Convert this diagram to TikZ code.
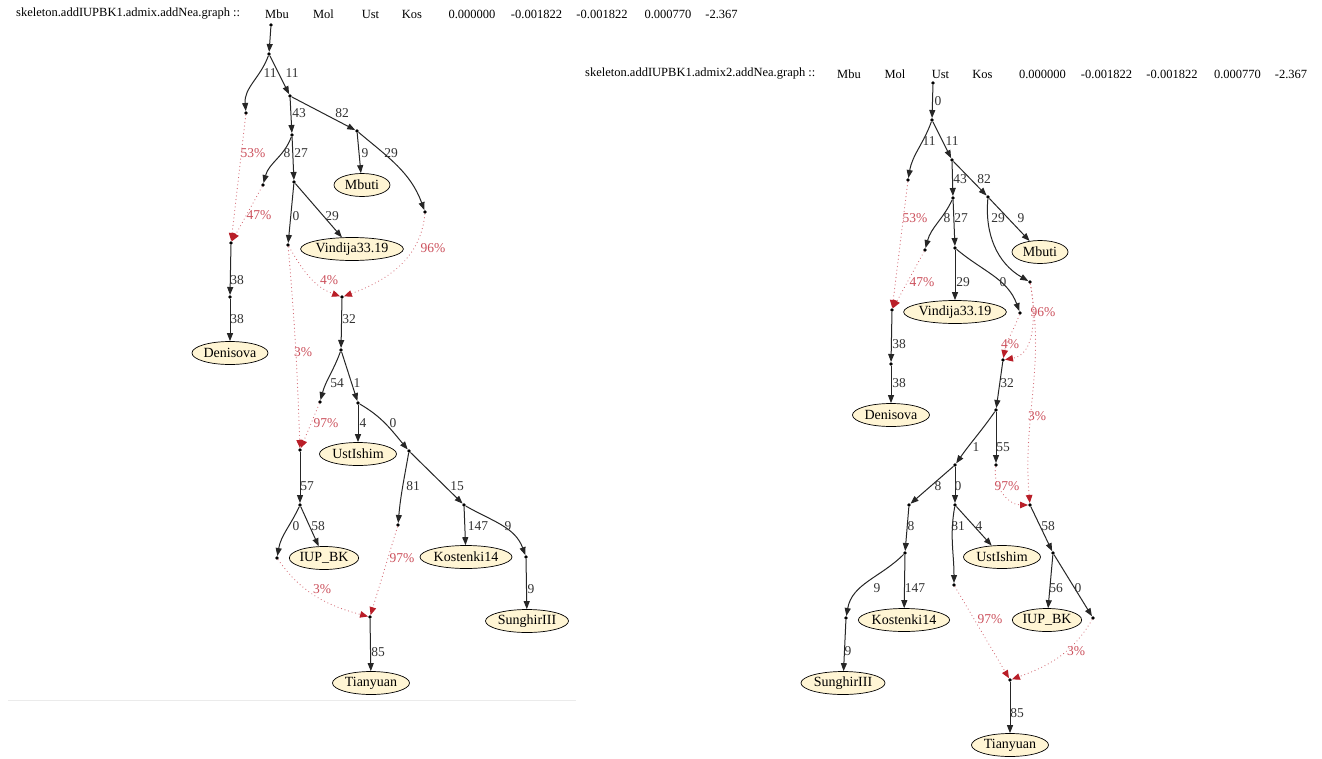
\documentclass[tikz,border=0pt]{standalone}
\usepackage{fontspec}
\setmainfont{Liberation Serif}
\usetikzlibrary{arrows.meta,shapes.geometric}

\definecolor{leaffill}{RGB}{255,245,212}
\definecolor{mixred}{RGB}{204,80,92}
\definecolor{tipred}{RGB}{185,30,40}

\begin{document}
\begin{tikzpicture}[x=1pt,y=1pt,
  vtx/.style={circle,fill=black,inner sep=0pt,minimum size=3.6pt},
  leaf/.style={ellipse,draw=black,fill=leaffill,line width=0.7pt,inner sep=0pt,minimum width=#1,minimum height=23pt,font=\fontsize{14}{15}\selectfont},
  tree/.style={draw=black!85,line width=1pt,-{Triangle[length=8pt,width=6pt]}},
  mix/.style={draw=mixred!85,line width=1.1pt,dash pattern=on 0.1pt off 3.6pt,line cap=round,-{Triangle[length=8pt,width=6.5pt,color=tipred]}},
  lbl/.style={inner sep=0pt,text=black!80,font=\fontsize{13.5}{15}\selectfont},
  pct/.style={lbl,text=mixred},
  head/.style={inner sep=0pt,font=\fontsize{12.5}{15}\selectfont}]

\path [use as bounding box] (0,0) rectangle (1322,-758);
\fill [white] (0,0) rectangle (1322,-758);
\draw [black!8, line width=1pt] (8,-700) -- (576,-700);

% HEADERS
\node[head, anchor=west] (hl0) at (16,-14) {skeleton.addIUPBK1.admix.addNea.graph ::};
\node[head] (hl1) at (277,-14) {Mbu};
\node[head] (hl2) at (323.5,-14) {Mol};
\node[head] (hl3) at (370.5,-14) {Ust};
\node[head] (hl4) at (412,-14) {Kos};
\node[head] (hl5) at (472,-14) {0.000000};
\node[head] (hl6) at (536.5,-14) {-0.001822};
\node[head] (hl7) at (602,-14) {-0.001822};
\node[head] (hl8) at (668,-14) {0.000770};
\node[head] (hl9) at (721.5,-14) {-2.367};

\node[head, anchor=west] (hr0) at (585,-74) {skeleton.addIUPBK1.admix2.addNea.graph ::};
\node[head] (hr1) at (849,-74) {Mbu};
\node[head] (hr2) at (895,-74) {Mol};
\node[head] (hr3) at (940.5,-74) {Ust};
\node[head] (hr4) at (982.5,-74) {Kos};
\node[head] (hr5) at (1042.5,-74) {0.000000};
\node[head] (hr6) at (1106.5,-74) {-0.001822};
\node[head] (hr7) at (1172,-74) {-0.001822};
\node[head] (hr8) at (1237.5,-74) {0.000770};
\node[head] (hr9) at (1291,-74) {-2.367};

% LEFT GRAPH -- VERTICES
\node[vtx] (a0) at (271,-25) {};
\node[vtx] (a1) at (269,-54) {};
\node[vtx] (a2) at (246,-113) {};
\node[vtx] (a3) at (290,-96) {};
\node[vtx] (a4) at (292,-135) {};
\node[vtx] (a5) at (357,-131) {};
\node[vtx] (a6) at (263,-185) {};
\node[vtx] (a7) at (294,-182) {};
\node[vtx] (a8) at (425,-212) {};
\node[vtx] (a9) at (288,-245) {};
\node[vtx] (aDx) at (231,-243) {};
\node[vtx] (a10) at (230,-297) {};
\node[vtx] (aMx1) at (342,-297) {};
\node[vtx] (a11) at (341,-350) {};
\node[vtx] (a12) at (320,-402) {};
\node[vtx] (a13) at (358,-403) {};
\node[vtx] (aMx2) at (300,-450) {};
\node[vtx] (a14) at (409,-451) {};
\node[vtx] (a15) at (300,-505) {};
\node[vtx] (a16) at (398,-525) {};
\node[vtx] (a17) at (464,-505) {};
\node[vtx] (a18) at (277,-558) {};
\node[vtx] (a19) at (526,-557) {};
\node[vtx] (aMx3) at (370,-617) {};

% LEFT GRAPH -- LEAVES
\node[leaf=56pt] (aMbu) at (362,-185) {Mbuti};
\node[leaf=101pt] (aVin) at (352,-249) {Vindija33.19};
\node[leaf=76pt] (aDen) at (230,-353) {Denisova};
\node[leaf=77pt] (aUst) at (358,-454) {UstIshim};
\node[leaf=67pt] (aIUP) at (324,-558) {IUP\_BK};
\node[leaf=92pt] (aKos) at (466,-557) {Kostenki14};
\node[leaf=83pt] (aSun) at (527,-621) {SunghirIII};
\node[leaf=77pt] (aTia) at (371,-683) {Tianyuan};

% LEFT GRAPH -- EDGES
\draw[tree] (a0) -- (a1);
\draw[tree] (a1) to[out=250,in=95] (a2);
\draw[tree] (a1) -- (a3);
\draw[tree] (a3) -- (a4);
\draw[tree] (a3) -- (a5);
\draw[tree] (a4) to[out=250,in=75] (a6);
\draw[tree] (a4) -- (a7);
\draw[tree] (a5) -- (aMbu);
\draw[tree] (a5) to[out=-40,in=110] (a8);
\draw[tree] (a7) -- (a9);
\draw[tree] (a7) -- (aVin);
\draw[tree] (aDx) -- (a10);
\draw[tree] (a10) -- (aDen);
\draw[tree] (aMx1) -- (a11);
\draw[tree] (a11) to[out=250,in=75] (a12);
\draw[tree] (a11) -- (a13);
\draw[tree] (a13) -- (aUst);
\draw[tree] (a13) to[out=-30,in=130] (a14);
\draw[tree] (aMx2) -- (a15);
\draw[tree] (a14) to[out=260,in=85] (a16);
\draw[tree] (a14) -- (a17);
\draw[tree] (a15) to[out=245,in=80] (a18);
\draw[tree] (a15) -- (aIUP);
\draw[tree] (a17) -- (aKos);
\draw[tree] (a17) to[out=-30,in=110] (a19);
\draw[tree] (a19) -- (aSun);
\draw[tree] (aMx3) -- (aTia);

% LEFT GRAPH -- ADMIXTURE
\draw[mix] (a2) -- (aDx);
\draw[mix] (a6) -- (aDx);
\draw[mix] (a8) to[out=265,in=20] (aMx1);
\draw[mix] (a9) to[out=-60,in=160] (aMx1);
\draw[mix] (a9) to[out=-85,in=92] (aMx2);
\draw[mix] (a12) -- (aMx2);
\draw[mix] (a18) to[out=-55,in=165] (aMx3);
\draw[mix] (a16) -- (aMx3);

% LEFT GRAPH -- LABELS
\node[lbl] (la1) at (270,-73) {11};
\node[lbl] (la2) at (292,-73) {11};
\node[lbl] (la3) at (299,-113) {43};
\node[lbl] (la4) at (342,-113) {82};
\node[lbl] (la5) at (287,-153) {8};
\node[lbl] (la6) at (301,-153) {27};
\node[lbl] (la7) at (365,-153) {9};
\node[lbl] (la8) at (391,-153) {29};
\node[pct] (la9) at (253,-153) {53\%};
\node[pct] (la10) at (259,-215) {47\%};
\node[lbl] (la11) at (296,-216) {0};
\node[lbl] (la12) at (332,-216) {29};
\node[pct] (la13) at (433,-248) {96\%};
\node[pct] (la14) at (329,-280) {4\%};
\node[lbl] (la15) at (237,-280) {38};
\node[lbl] (la16) at (237,-319) {38};
\node[lbl] (la17) at (349,-319) {32};
\node[pct] (la18) at (303,-352) {3\%};
\node[lbl] (la19) at (337,-383) {54};
\node[lbl] (la20) at (357,-383) {1};
\node[pct] (la21) at (326,-423) {97\%};
\node[lbl] (la22) at (363,-423) {4};
\node[lbl] (la23) at (393,-423) {0};
\node[lbl] (la24) at (307,-486) {57};
\node[lbl] (la25) at (413,-486) {81};
\node[lbl] (la26) at (457,-486) {15};
\node[lbl] (la27) at (296,-526) {0};
\node[lbl] (la28) at (318,-526) {58};
\node[lbl] (la29) at (478,-526) {147};
\node[lbl] (la30) at (508,-526) {9};
\node[pct] (la31) at (402,-558) {97\%};
\node[pct] (la32) at (322,-589) {3\%};
\node[lbl] (la33) at (531,-589) {9};
\node[lbl] (la34) at (378,-652) {85};

% RIGHT GRAPH -- VERTICES
\node[vtx] (b0) at (933,-83) {};
\node[vtx] (b1) at (932,-120) {};
\node[vtx] (b2) at (908,-180) {};
\node[vtx] (b3) at (952,-160) {};
\node[vtx] (b4) at (953,-198) {};
\node[vtx] (b5) at (988,-197) {};
\node[vtx] (b6) at (925,-250) {};
\node[vtx] (b7) at (955,-248) {};
\node[vtx] (b8) at (1030,-282) {};
\node[vtx] (b9) at (1020,-313) {};
\node[vtx] (bDx) at (892,-310) {};
\node[vtx] (b10) at (891,-364) {};
\node[vtx] (bMx1) at (1003,-360) {};
\node[vtx] (b11) at (996,-410) {};
\node[vtx] (b12) at (955,-465) {};
\node[vtx] (b13) at (996,-465) {};
\node[vtx] (bMx2) at (1030,-505) {};
\node[vtx] (b14) at (909,-505) {};
\node[vtx] (b15) at (955,-505) {};
\node[vtx] (b16) at (1053,-553) {};
\node[vtx] (b17) at (905,-553) {};
\node[vtx] (b18) at (954,-585) {};
\node[vtx] (b19) at (846,-618) {};
\node[vtx] (b20) at (1093,-618) {};
\node[vtx] (bMx3) at (1010,-680) {};

% RIGHT GRAPH -- LEAVES
\node[leaf=56pt] (bMbu) at (1040,-252) {Mbuti};
\node[leaf=100pt] (bVin) at (955,-312) {Vindija33.19};
\node[leaf=77pt] (bDen) at (891,-415) {Denisova};
\node[leaf=77pt] (bUst) at (1002,-557) {UstIshim};
\node[leaf=91pt] (bKos) at (904,-620) {Kostenki14};
\node[leaf=66pt] (bIUP) at (1047,-620) {IUP\_BK};
\node[leaf=84pt] (bSun) at (843,-683) {SunghirIII};
\node[leaf=77pt] (bTia) at (1010,-745) {Tianyuan};

% RIGHT GRAPH -- EDGES
\draw[tree] (b0) -- (b1);
\draw[tree] (b1) to[out=250,in=80] (b2);
\draw[tree] (b1) -- (b3);
\draw[tree] (b3) -- (b4);
\draw[tree] (b3) -- (b5);
\draw[tree] (b4) to[out=245,in=75] (b6);
\draw[tree] (b4) -- (b7);
\draw[tree] (b5) -- (bMbu);
\draw[tree] (b5) to[out=265,in=150] (b8);
\draw[tree] (b7) -- (bVin);
\draw[tree] (b7) to[out=-40,in=110] (b9);
\draw[tree] (bDx) -- (b10);
\draw[tree] (b10) -- (bDen);
\draw[tree] (bMx1) -- (b11);
\draw[tree] (b11) to[out=235,in=55] (b12);
\draw[tree] (b11) -- (b13);
\draw[tree] (b12) -- (b14);
\draw[tree] (b12) -- (b15);
\draw[tree] (b14) -- (b17);
\draw[tree] (b15) to[out=260,in=90] (b18);
\draw[tree] (b15) -- (bUst);
\draw[tree] (bMx2) -- (b16);
\draw[tree] (b17) to[out=225,in=80] (b19);
\draw[tree] (b17) -- (bKos);
\draw[tree] (b16) -- (bIUP);
\draw[tree] (b16) -- (b20);
\draw[tree] (b19) -- (bSun);
\draw[tree] (bMx3) -- (bTia);

% RIGHT GRAPH -- ADMIXTURE
\draw[mix] (b2) -- (bDx);
\draw[mix] (b6) -- (bDx);
\draw[mix] (b8) to[out=-80,in=10] (bMx1);
\draw[mix] (b9) to[out=250,in=80] (bMx1);
\draw[mix] (b8) to[out=-80,in=95] (bMx2);
\draw[mix] (b13) to[out=260,in=180] (bMx2);
\draw[mix] (b18) -- (bMx3);
\draw[mix] (b20) to[out=240,in=20] (bMx3);

% RIGHT GRAPH -- LABELS
\node[lbl] (lb1) at (938,-101) {0};
\node[lbl] (lb2) at (929,-141) {11};
\node[lbl] (lb3) at (952,-141) {11};
\node[lbl] (lb4) at (960,-179) {43};
\node[lbl] (lb5) at (984,-179) {82};
\node[lbl] (lb6) at (947,-218) {8};
\node[lbl] (lb7) at (961,-218) {27};
\node[lbl] (lb8) at (998,-218) {29};
\node[lbl] (lb9) at (1021,-218) {9};
\node[pct] (lb10) at (915,-218) {53\%};
\node[pct] (lb11) at (922,-282) {47\%};
\node[lbl] (lb12) at (963,-282) {29};
\node[lbl] (lb13) at (1003,-282) {0};
\node[pct] (lb14) at (1043,-312) {96\%};
\node[pct] (lb15) at (1010,-344) {4\%};
\node[lbl] (lb16) at (899,-344) {38};
\node[lbl] (lb17) at (899,-383) {38};
\node[lbl] (lb18) at (1007,-383) {32};
\node[pct] (lb19) at (1037,-416) {3\%};
\node[lbl] (lb20) at (976,-447) {1};
\node[lbl] (lb21) at (1003,-447) {55};
\node[pct] (lb22) at (1007,-486) {97\%};
\node[lbl] (lb23) at (938,-486) {8};
\node[lbl] (lb24) at (958,-486) {0};
\node[lbl] (lb25) at (911,-526) {8};
\node[lbl] (lb26) at (958,-526) {81};
\node[lbl] (lb27) at (979,-526) {4};
\node[lbl] (lb28) at (1048,-526) {58};
\node[lbl] (lb29) at (877,-588) {9};
\node[lbl] (lb30) at (915,-588) {147};
\node[lbl] (lb31) at (1056,-588) {56};
\node[lbl] (lb32) at (1078,-588) {0};
\node[pct] (lb33) at (990,-619) {97\%};
\node[pct] (lb34) at (1076,-651) {3\%};
\node[lbl] (lb35) at (848,-651) {9};
\node[lbl] (lb36) at (1017,-713) {85};

\end{tikzpicture}
\end{document}
